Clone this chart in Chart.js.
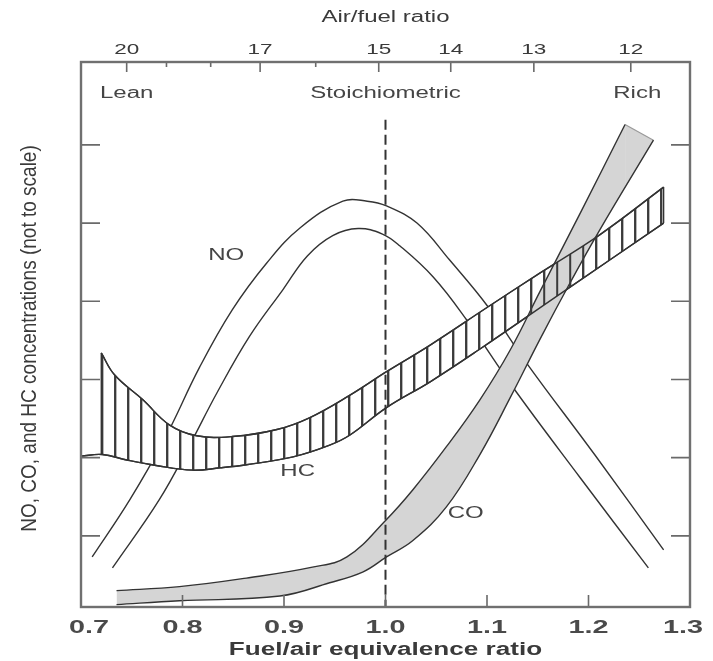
<!DOCTYPE html>
<html>
<head>
<meta charset="utf-8">
<script src="https://cdn.jsdelivr.net/npm/chart.js@4.4.1/dist/chart.umd.min.js"></script>
<style>
  html, body { margin: 0; padding: 0; background: #fff; }
  #wrap { width: 713px; height: 661px; }
</style>
</head>
<body>
<div id="wrap"><canvas id="emissions" width="713" height="661"></canvas></div>
<script>
// ── axis ticks ──
const phiTicks = [0.7, 0.8, 0.9, 1.0, 1.1, 1.2, 1.3];
const afrMajor = [20, 17, 15, 14, 13, 12];
const afrMinor = [19, 18, 16];
const stoichAFR = 14.9;           // phi = stoichAFR / AFR
const concTicks = [0, 1, 2, 3, 4, 5];

// ── NO (two outline curves) ──
const noOuterPhi  = [0.711, 0.748, 0.782, 0.817, 0.849, 0.883, 0.916, 0.958, 0.982, 1.001, 1.031, 1.063, 1.101, 1.139, 1.206, 1.274];
const noOuterConc = [-0.27, 0.46, 1.23, 2.16, 2.89, 3.49, 3.94, 4.28, 4.28, 4.22, 4.00, 3.53, 2.93, 2.21, 1.04, -0.18];
const noInnerPhi  = [0.731, 0.777, 0.807, 0.834, 0.866, 0.899, 0.923, 0.948, 0.973, 0.997, 1.014, 1.047, 1.080, 1.125, 1.192, 1.259];
const noInnerConc = [-0.41, 0.46, 1.16, 1.83, 2.55, 3.15, 3.58, 3.84, 3.93, 3.86, 3.71, 3.31, 2.76, 1.91, 0.74, -0.41];

// ── HC band (hatched) ──
const hcUpperPhi  = [0.720, 0.733, 0.761, 0.787, 0.814, 0.849, 0.893, 0.925, 0.965, 1.001, 1.044, 1.100, 1.152, 1.211, 1.274];
const hcUpperConc = [2.34, 2.06, 1.74, 1.42, 1.28, 1.27, 1.36, 1.51, 1.80, 2.10, 2.44, 2.92, 3.36, 3.85, 4.46];
const hcLowerPhi  = [0.700, 0.721, 0.745, 0.774, 0.810, 0.837, 0.863, 0.909, 0.945, 0.965, 1.001, 1.044, 1.092, 1.175, 1.274];
const hcLowerConc = [1.02, 1.04, 0.97, 0.90, 0.84, 0.87, 0.91, 1.01, 1.16, 1.29, 1.64, 1.97, 2.38, 3.12, 4.00];

// ── CO band (grey) ──
const coUpperPhi  = [0.735, 0.797, 0.863, 0.928, 0.962, 1.001, 1.027, 1.060, 1.093, 1.123, 1.152, 1.192, 1.236];
const coUpperConc = [-0.70, -0.65, -0.54, -0.40, -0.27, 0.21, 0.59, 1.14, 1.74, 2.38, 3.12, 4.13, 5.26];
const coLowerPhi  = [0.735, 0.797, 0.896, 0.945, 0.978, 1.001, 1.027, 1.060, 1.093, 1.123, 1.152, 1.182, 1.211, 1.264];
const coLowerConc = [-0.88, -0.83, -0.77, -0.60, -0.46, -0.27, -0.06, 0.37, 1.04, 1.77, 2.51, 3.24, 3.91, 5.06];
const coCapFoot = 4.45;           // lower edge under the upper edge's end

// stoichiometric marker
const stoichPhi = 1.0;
const stoichTop = 5.32;

const notes = [
  { text: 'Lean', x: 0.745, y: 5.66 },
  { text: 'Stoichiometric', x: 1.0, y: 5.66 },
  { text: 'Rich', x: 1.248, y: 5.66 },
  { text: 'NO', x: 0.843, y: 3.59 },
  { text: 'HC', x: 0.9135, y: 0.82 },
  { text: 'CO', x: 1.079, y: 0.29 }
];

const Y_MIN = -0.91, Y_MAX = 6.06;
const INK = '#333';
const CO_GREY = '#d5d5d5';
const FONT = "'Liberation Sans', Arial, sans-serif";
// the source figure is stretched sideways, so text is drawn wider than normal
const WIDE = 1.5;

const pts = (xs, ys) => xs.map((x, i) => ({ x, y: ys[i] }));

function hatch(withBg) {
  const c = document.createElement('canvas');
  c.width = 13; c.height = 4;
  const g = c.getContext('2d');
  if (withBg) { g.fillStyle = '#fff'; g.fillRect(0, 0, 13, 4); }
  g.fillStyle = '#3a3a3a';
  g.fillRect(10.2, 0, 2, 4);
  return g.createPattern(c, 'repeat');
}

function edge(data, order, extra) {
  return Object.assign({
    data, order, borderColor: INK, borderWidth: 1.4,
    pointRadius: 0, tension: 0.4, fill: false
  }, extra || {});
}

function wideText(ctx, text, x, y, font, sx, rot) {
  ctx.save();
  ctx.translate(x, y);
  ctx.scale(sx, 1);
  if (rot) ctx.rotate(rot);
  ctx.font = font;
  ctx.fillText(text, 0, 0);
  ctx.restore();
}

const frame = {
  id: 'frame',
  afterDatasetsDraw(chart) {
    const { ctx, chartArea: a, scales } = chart;
    ctx.save();
    ctx.strokeStyle = '#6a6a6a';
    ctx.lineWidth = 1.6;
    ctx.beginPath();
    concTicks.forEach(v => {
      const y = scales.y.getPixelForValue(v);
      ctx.moveTo(a.left, y); ctx.lineTo(a.left + 19, y);
      ctx.moveTo(a.right, y); ctx.lineTo(a.right - 19, y);
    });
    phiTicks.slice(1, -1).forEach(v => {
      const x = scales.x.getPixelForValue(v);
      ctx.moveTo(x, a.bottom); ctx.lineTo(x, a.bottom - 12);
    });
    afrMajor.forEach(r => {
      const x = scales.xTop.getPixelForValue(stoichAFR / r);
      ctx.moveTo(x, a.top); ctx.lineTo(x, a.top + 10);
    });
    afrMinor.forEach(r => {
      const x = scales.xTop.getPixelForValue(stoichAFR / r);
      ctx.moveTo(x, a.top); ctx.lineTo(x, a.top + 5);
    });
    ctx.stroke();
    ctx.lineWidth = 2.4;
    ctx.strokeStyle = '#707070';
    ctx.strokeRect(a.left, a.top, a.width, a.height);

    // labels
    ctx.textAlign = 'center';
    ctx.textBaseline = 'middle';
    const midX = (a.left + a.right) / 2;

    ctx.fillStyle = '#4a4a4a';
    phiTicks.forEach((v, i) => {
      // end labels sit a little inside the frame, as in the source
      const nudge = i === 0 ? 8 : (i === phiTicks.length - 1 ? -7 : 0);
      wideText(ctx, v.toFixed(1), scales.x.getPixelForValue(v) + nudge, a.bottom + 21, 'bold 18px ' + FONT, 1.6);
    });
    ctx.fillStyle = '#3a3a3a';
    wideText(ctx, 'Fuel/air equivalence ratio', midX, a.bottom + 43, 'bold 18px ' + FONT, 1.45);

    afrMajor.forEach(r => {
      wideText(ctx, String(r), scales.xTop.getPixelForValue(stoichAFR / r), a.top - 12, '15px ' + FONT, WIDE);
    });
    wideText(ctx, 'Air/fuel ratio', midX, 18, '16px ' + FONT, WIDE);

    wideText(ctx, 'NO, CO, and HC concentrations (not to scale)', 30, (a.top + a.bottom) / 2 + 4,
             '19px ' + FONT, 1.2, -Math.PI / 2);

    ctx.fillStyle = '#454545';
    notes.forEach(n => {
      wideText(ctx, n.text, scales.x.getPixelForValue(n.x), scales.y.getPixelForValue(n.y), '16px ' + FONT, WIDE);
    });
    ctx.restore();
  }
};

const coCap = [
  { x: coUpperPhi.at(-1), y: coUpperConc.at(-1) },
  { x: coLowerPhi.at(-1), y: coLowerConc.at(-1) },
  { x: coUpperPhi.at(-1), y: coCapFoot },
  { x: coUpperPhi.at(-1), y: coUpperConc.at(-1) }
];

new Chart(document.getElementById('emissions'), {
  type: 'line',
  data: {
    datasets: [
      edge(pts(noOuterPhi, noOuterConc), 10),                                   // 0
      edge(pts(noInnerPhi, noInnerConc), 10),                                   // 1
      edge(pts(hcLowerPhi, hcLowerConc), 8),                                    // 2
      edge(pts(hcUpperPhi, hcUpperConc), 8, { fill: 2, backgroundColor: hatch(true) }), // 3
      edge(pts(coUpperPhi, coUpperConc), 6),                                    // 4
      edge(pts(coLowerPhi, coLowerConc), 6, { fill: 4, backgroundColor: CO_GREY }),  // 5
      edge(pts(hcLowerPhi, hcLowerConc), 4),                                    // 6
      edge(pts(hcUpperPhi, hcUpperConc), 4, { fill: 6, backgroundColor: hatch(false) }), // 7
      edge([{ x: hcUpperPhi[0], y: hcUpperConc[0] }, { x: hcUpperPhi[0], y: hcLowerConc[1] }], 4, { tension: 0 }),
      edge([{ x: hcUpperPhi.at(-1), y: hcUpperConc.at(-1) }, { x: hcLowerPhi.at(-1), y: hcLowerConc.at(-1) }], 4, { tension: 0 }),
      edge([{ x: stoichPhi, y: stoichTop }, { x: stoichPhi, y: Y_MIN }], 1,
           { tension: 0, borderWidth: 2, borderDash: [10, 5] }),
      edge(coCap, 7, {
        tension: 0, fill: 'shape', backgroundColor: CO_GREY, borderWidth: 1.2,
        segment: { borderColor: c => c.p0DataIndex === 0 ? '#9a9a9a' : 'rgba(0,0,0,0)' }
      })
    ]
  },
  options: {
    responsive: false,
    animation: false,
    events: [],
    layout: { padding: { left: 0, right: 23, top: 0, bottom: 0 } },
    plugins: { legend: { display: false }, tooltip: { enabled: false } },
    scales: {
      x: {
        type: 'linear', position: 'bottom', min: 0.7, max: 1.3,
        afterBuildTicks: s => { s.ticks = phiTicks.map(v => ({ value: v })); },
        afterFit: s => { s.height = 54; },
        grid: { display: false, drawTicks: false },
        border: { display: false },
        ticks: { display: false }
      },
      xTop: {
        type: 'linear', position: 'top', min: 0.7, max: 1.3,
        afterBuildTicks: s => { s.ticks = afrMajor.map(r => ({ value: stoichAFR / r })); },
        afterFit: s => { s.height = 62; },
        grid: { display: false, drawTicks: false },
        border: { display: false },
        ticks: { display: false }
      },
      y: {
        type: 'linear', position: 'left', min: Y_MIN, max: Y_MAX,
        afterBuildTicks: s => { s.ticks = concTicks.map(v => ({ value: v })); },
        afterFit: s => { s.width = 81; },
        grid: { display: false, drawTicks: false },
        border: { display: false },
        ticks: { display: false }
      }
    }
  },
  plugins: [frame]
});
</script>
</body>
</html>
